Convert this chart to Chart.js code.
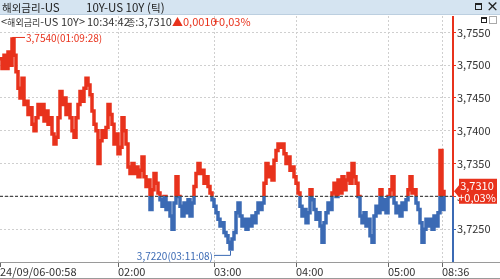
<!DOCTYPE html>
<html><head><meta charset="utf-8">
<script src="https://cdn.jsdelivr.net/npm/chart.js@4/dist/chart.umd.min.js"></script>
<style>
html,body{margin:0;padding:0;background:#fff;}
#wrap{position:relative;width:500px;height:279px;overflow:hidden;font-family:"Liberation Sans Narrow","Noto Sans CJK KR","Noto Sans",sans-serif;}
canvas{position:absolute;left:0;top:0;}
#bar{position:absolute;left:0;top:0;width:500px;height:14px;background:#d5e4f1;border-bottom:1px solid #bccfe0;}
.t{position:absolute;white-space:nowrap;font-size:11px;line-height:14px;color:#333;}
.k{font-family:"Noto Sans CJK KR",sans-serif;font-size:9px;}
.r{color:#e8321c;}
.box{position:absolute;border:1.5px solid #222;box-sizing:border-box;}
</style></head><body>
<div id="wrap">
<canvas id="c" width="500" height="279"></canvas>
<div id="bar"></div>
<span class="t" style="left:2px;top:0;color:#222;font-size:11.5px"><span style="font-family:'Noto Sans CJK KR';font-size:10.5px">해외금리</span>-US</span>
<span class="t" style="left:86px;top:0;color:#222;font-size:11.5px">10Y-US 10Y (<span style="font-family:'Noto Sans CJK KR';font-size:10.5px">틱</span>)</span>
<span class="box" style="left:475px;top:3px;width:7px;height:7px;border-top-width:2.5px"></span>
<span class="t" style="left:486px;top:-1px;font-size:13px;font-weight:bold;color:#222">×</span>
<span class="t" style="left:1px;top:14px">&lt;<span class="k">해외금리</span>-US 10Y&gt;</span>
<span class="t" style="left:87px;top:14px">10:34:42</span>
<span class="t" style="left:127px;top:14px"><span class="k">종</span>:3,7310</span>
<span class="t r" style="left:172px;top:14px">▲0,0010</span>
<span class="t r" style="left:213px;top:14px">+0,03%</span>
<span class="box" style="left:481px;top:17px;width:6px;height:6px;border-width:1px;border-top-width:2px"></span>
<span class="box" style="left:489px;top:16px;width:8px;height:8px;border:1px solid #aaa"></span>
</div>
<script>
// ---- data ----
const prices = [
 3.7510,3.7495,3.7515,3.7495,3.7520,3.7500,3.7540,3.7515,3.7490,3.7465,
 3.7450,3.7480,3.7440,3.7445,3.7425,3.7435,3.7410,3.7400,3.7420,3.7440,
 3.7425,3.7440,3.7415,3.7430,3.7410,3.7420,3.7395,3.7380,3.7390,3.7420,
 3.7460,3.7440,3.7450,3.7425,3.7440,3.7420,3.7400,3.7390,3.7420,3.7440,
 3.7460,3.7445,3.7465,3.7480,3.7470,3.7455,3.7430,3.7410,3.7400,3.7350,
 3.7385,3.7400,3.7390,3.7405,3.7440,3.7425,3.7410,3.7380,3.7395,3.7365,
 3.7375,3.7420,3.7400,3.7380,3.7345,3.7335,3.7350,3.7335,3.7345,3.7330,
 3.7340,3.7360,3.7330,3.7315,3.7325,3.7280,3.7310,3.7335,3.7320,3.7305,
 3.7295,3.7285,3.7300,3.7280,3.7290,3.7270,3.7250,3.7290,3.7330,3.7300,
 3.7285,3.7270,3.7290,3.7275,3.7295,3.7270,3.7290,3.7315,3.7335,3.7350,
 3.7335,3.7340,3.7320,3.7330,3.7315,3.7305,3.7295,3.7285,3.7275,3.7265,
 3.7255,3.7260,3.7245,3.7240,3.7230,3.7220,3.7235,3.7245,3.7275,3.7290,
 3.7270,3.7255,3.7265,3.7250,3.7265,3.7255,3.7270,3.7260,3.7275,3.7290,
 3.7280,3.7290,3.7320,3.7350,3.7330,3.7345,3.7325,3.7355,3.7370,3.7380,
 3.7375,3.7380,3.7365,3.7350,3.7360,3.7340,3.7345,3.7330,3.7320,3.7305,
 3.7285,3.7270,3.7280,3.7260,3.7275,3.7310,3.7295,3.7280,3.7265,3.7275,
 3.7255,3.7230,3.7260,3.7275,3.7290,3.7280,3.7305,3.7320,3.7300,3.7325,
 3.7305,3.7330,3.7310,3.7325,3.7335,3.7320,3.7350,3.7330,3.7320,3.7300,
 3.7270,3.7260,3.7275,3.7255,3.7265,3.7240,3.7230,3.7270,3.7285,3.7275,
 3.7310,3.7280,3.7295,3.7275,3.7300,3.7310,3.7330,3.7290,3.7275,3.7285,
 3.7270,3.7290,3.7280,3.7295,3.7310,3.7330,3.7305,3.7310,3.7290,3.7280,
 3.7260,3.7230,3.7250,3.7265,3.7255,3.7265,3.7250,3.7270,3.7255,3.7275,
 3.7370,3.7280,3.7310
];
const xTickIndex = [0, 59, 107, 148, 194, 221];
const xTickLabels = ["24/09/06-00:58", "02:00", "03:00", "04:00", "05:00", "08:36"];
const yTickValues = [3.7250, 3.7300, 3.7350, 3.7400, 3.7450, 3.7500, 3.7550];
const prevClose = 3.7300;
const lastPrice = 3.7310;
const changePct = "+0,03%";
const highTime = "01:09:28";
const lowTime = "03:11:08";

const RED = '#e8321c', BLUE = '#3b6ab4';
const FONT = '"Liberation Sans Narrow","Noto Sans CJK KR","Noto Sans",sans-serif';
const fmt = v => v.toFixed(4).replace('.', ',');

const deco = {
  id: 'deco',
  afterDatasetsDraw(chart) {
    const {ctx, chartArea: a, scales: {x, y}} = chart;
    const yb = y.getPixelForValue(prevClose);
    ctx.save();
    ctx.strokeStyle = '#4a4a4a'; ctx.lineWidth = 1.3; ctx.setLineDash([3, 2]);
    ctx.beginPath(); ctx.moveTo(a.left, yb); ctx.lineTo(a.right, yb); ctx.stroke();
    ctx.restore();
  },
  afterDraw(chart) {
    const {ctx, chartArea: a, scales: {x, y}} = chart;
    const yb = y.getPixelForValue(prevClose);
    ctx.save();
    ctx.strokeStyle = '#9a9a9a'; ctx.lineWidth = 1;
    ctx.beginPath(); ctx.moveTo(0, Math.round(a.bottom) + 0.5); ctx.lineTo(500, Math.round(a.bottom) + 0.5); ctx.stroke();
    ctx.beginPath(); ctx.moveTo(0, 278.5); ctx.lineTo(500, 278.5); ctx.stroke();
    ctx.lineWidth = 2;
    ctx.strokeStyle = RED;
    ctx.beginPath(); ctx.moveTo(a.right, a.top); ctx.lineTo(a.right, yb); ctx.stroke();
    ctx.strokeStyle = BLUE;
    ctx.beginPath(); ctx.moveTo(a.right, yb); ctx.lineTo(a.right, a.bottom); ctx.stroke();
    let hi = 0, lo = 0;
    prices.forEach((v, i) => { if (v > prices[hi]) hi = i; if (v < prices[lo]) lo = i; });
    ctx.font = '10px ' + FONT; ctx.textBaseline = 'middle';
    let px = x.getPixelForValue(hi), py = y.getPixelForValue(prices[hi]);
    ctx.strokeStyle = RED; ctx.fillStyle = RED; ctx.lineWidth = 1;
    ctx.beginPath(); ctx.moveTo(px + 0.5, py + 5); ctx.lineTo(px + 0.5, py - 1.5); ctx.lineTo(px + 13, py - 1.5); ctx.stroke();
    ctx.textAlign = 'left';
    ctx.fillText(fmt(prices[hi]) + '(' + highTime + ')', px + 14, py - 1);
    px = x.getPixelForValue(lo); py = y.getPixelForValue(prices[lo]);
    ctx.strokeStyle = BLUE; ctx.fillStyle = BLUE;
    ctx.beginPath(); ctx.moveTo(px + 0.5, py + 2); ctx.lineTo(px + 0.5, py + 6.5); ctx.lineTo(px - 16, py + 6.5); ctx.stroke();
    ctx.textAlign = 'right';
    ctx.fillText(fmt(prices[lo]) + '(' + lowTime + ')', px - 17, py + 7);
    const vy = y.getPixelForValue(lastPrice) + 1.5;
    const bx = a.right + 1;
    ctx.fillStyle = RED;
    ctx.beginPath();
    ctx.moveTo(bx, vy);
    ctx.lineTo(bx + 5, vy - 6);
    ctx.lineTo(bx + 5, vy - 12.5);
    ctx.lineTo(497, vy - 12.5);
    ctx.lineTo(497, vy + 12.5);
    ctx.lineTo(bx + 5, vy + 12.5);
    ctx.lineTo(bx + 5, vy + 6);
    ctx.closePath(); ctx.fill();
    ctx.fillStyle = '#fff'; ctx.textAlign = 'center'; ctx.font = '11px ' + FONT;
    ctx.fillText(fmt(lastPrice), 477, vy - 5.5);
    ctx.fillText(changePct, 477, vy + 6);
    ctx.restore();
  }
};

new Chart(document.getElementById('c'), {
  type: 'line',
  data: {
    datasets: [{
      data: prices.map((v, i) => ({x: i, y: v})),
      borderWidth: 3.5,
      stepped: true,
      pointRadius: 0,
      borderColor(c) {
        const ch = c.chart, a = ch.chartArea;
        if (!a) return RED;
        const yb = ch.scales.y.getPixelForValue(prevClose);
        const s = Math.min(1, Math.max(0, (yb - a.top) / (a.bottom - a.top)));
        const g = ch.ctx.createLinearGradient(0, a.top, 0, a.bottom);
        g.addColorStop(0, RED); g.addColorStop(s, RED);
        g.addColorStop(s, BLUE); g.addColorStop(1, BLUE);
        return g;
      }
    }]
  },
  options: {
    responsive: false,
    animation: false,
    events: [],
    devicePixelRatio: 1,
    layout: {padding: {top: 16, left: 0, right: 0, bottom: 0}},
    plugins: {legend: {display: false}, tooltip: {enabled: false}},
    scales: {
      x: {
        type: 'linear', min: 0, max: 226.5,
        afterBuildTicks(s) { s.ticks = xTickIndex.map(v => ({value: v})); },
        afterFit(s) { s.height = 17; },
        ticks: {
          autoSkip: false, maxRotation: 0, minRotation: 0, align: 'start', padding: -2,
          color: '#333', font: {size: 11, family: FONT},
          callback: (v, i) => xTickLabels[i]
        },
        grid: {
          color: c => (c.index === 0 ? 'rgba(0,0,0,0)' : '#cfcfcf'),
          lineWidth: 1, tickLength: 5, tickColor: '#666'
        },
        border: {display: false, dash: [2, 2]}
      },
      y: {
        position: 'right', min: 3.72, max: 3.7575,
        afterBuildTicks(s) { s.ticks = yTickValues.map(v => ({value: v})); },
        afterFit(s) { s.width = 47; },
        ticks: {
          color: '#333', font: {size: 11, family: FONT}, padding: 1,
          callback: v => fmt(v)
        },
        grid: {
          color: '#cfcfcf', lineWidth: 1, tickLength: 3,
          tickColor: c => (c.tick && c.tick.value >= prevClose ? RED : BLUE)
        },
        border: {display: false, dash: [2, 2]}
      }
    }
  },
  plugins: [deco]
});
</script>
</body></html>
